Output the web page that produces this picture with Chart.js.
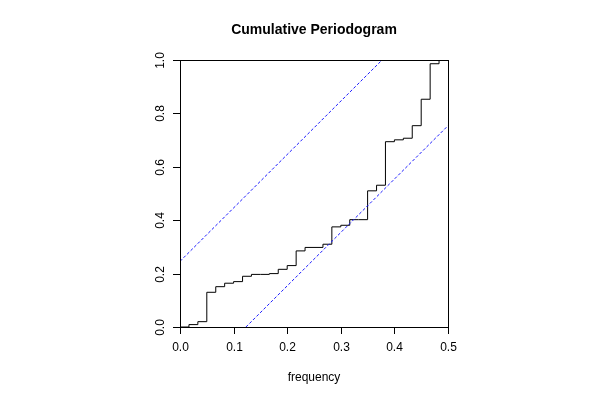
<!DOCTYPE html>
<html>
<head>
<meta charset="utf-8">
<script src="https://cdn.jsdelivr.net/npm/chart.js@4.4.1/dist/chart.umd.min.js"></script>
<style>
  html, body { margin: 0; padding: 0; background: #ffffff; }
</style>
</head>
<body>
<canvas id="chart1" width="600" height="400"></canvas>
<script>
// frequencies k/60 and the cumulative periodogram
const frequency = [0, 0.0167, 0.0333, 0.05, 0.0667, 0.0833, 0.1, 0.1167, 0.1333, 0.15,
  0.1667, 0.1833, 0.2, 0.2167, 0.2333, 0.25, 0.2667, 0.2833, 0.3, 0.3167,
  0.3333, 0.35, 0.3667, 0.3833, 0.4, 0.4167, 0.4333, 0.45, 0.4667, 0.4833, 0.5];
const cumulative = [0, 0.009, 0.02, 0.13, 0.151, 0.164, 0.17, 0.19, 0.197, 0.197,
  0.2, 0.216, 0.23, 0.285, 0.298, 0.298, 0.31, 0.375, 0.381, 0.402,
  0.402, 0.51, 0.531, 0.694, 0.701, 0.707, 0.754, 0.853, 0.986, 1.0, 1.0];

// confidence band end points
const upperX = [0, 0.377];
const upperY = [0.246, 1.0];
const lowerX = [0.123, 0.5];
const lowerY = [0, 0.754];

const xTicks = [0, 0.1, 0.2, 0.3, 0.4, 0.5];
const yTicks = [0, 0.2, 0.4, 0.6, 0.8, 1.0];

const toPoints = (xs, ys) => xs.map((x, i) => ({ x: x, y: ys[i] }));

// R-style frame, ticks and labels, placed through the chart scales
const rAxes = {
  id: 'rAxes',
  afterDraw(chart) {
    const ctx = chart.ctx;
    const xs = chart.scales.x;
    const ys = chart.scales.y;
    const a = chart.chartArea;
    ctx.save();
    ctx.strokeStyle = '#000000';
    ctx.lineWidth = 1;
    ctx.strokeRect(Math.round(a.left) + 0.5, Math.round(a.top) + 0.5,
      Math.round(a.right - a.left), Math.round(a.bottom - a.top));

    ctx.fillStyle = '#000000';
    ctx.font = '12px "Liberation Sans", Arial, sans-serif';
    ctx.textAlign = 'center';
    ctx.textBaseline = 'middle';
    xTicks.forEach(v => {
      const px = Math.round(xs.getPixelForValue(v)) + 0.5;
      ctx.beginPath();
      ctx.moveTo(px, a.bottom);
      ctx.lineTo(px, a.bottom + 7);
      ctx.stroke();
      ctx.fillText(v.toFixed(1), px, a.bottom + 21);
    });
    yTicks.forEach(v => {
      const py = Math.round(ys.getPixelForValue(v)) + 0.5;
      ctx.beginPath();
      ctx.moveTo(a.left, py);
      ctx.lineTo(a.left - 7, py);
      ctx.stroke();
      ctx.save();
      ctx.translate(a.left - 19, py);
      ctx.rotate(-Math.PI / 2);
      ctx.fillText(v.toFixed(1), 0, 0);
      ctx.restore();
    });

    ctx.fillText('frequency', (a.left + a.right) / 2, a.bottom + 51);
    ctx.font = 'bold 14px "Liberation Sans", Arial, sans-serif';
    ctx.fillText('Cumulative Periodogram', (a.left + a.right) / 2, 30);
    ctx.restore();
  }
};

new Chart(
  document.getElementById('chart1'),
  {
    type: 'line',
    data: {
      datasets: [
        {
          data: toPoints(upperX, upperY),
          borderColor: '#1a1aff',
          borderWidth: 1,
          borderDash: [3, 2],
          pointRadius: 0,
        },
        {
          data: toPoints(lowerX, lowerY),
          borderColor: '#1a1aff',
          borderWidth: 1,
          borderDash: [3, 2],
          pointRadius: 0,
        },
        {
          data: toPoints(frequency, cumulative),
          borderColor: '#000000',
          borderWidth: 1,
          stepped: true,
          pointRadius: 0,
        },
      ]
    },
    options: {
      responsive: false,
      animation: false,
      devicePixelRatio: 1,
      layout: {
        padding: { left: 180, right: 152, top: 60, bottom: 73 }
      },
      plugins: {
        legend: { display: false },
        tooltip: { enabled: false },
      },
      scales: {
        x: { type: 'linear', min: 0, max: 0.5, display: false },
        y: { type: 'linear', min: 0, max: 1, display: false },
      }
    },
    plugins: [rAxes]
  }
);
</script>
</body>
</html>
